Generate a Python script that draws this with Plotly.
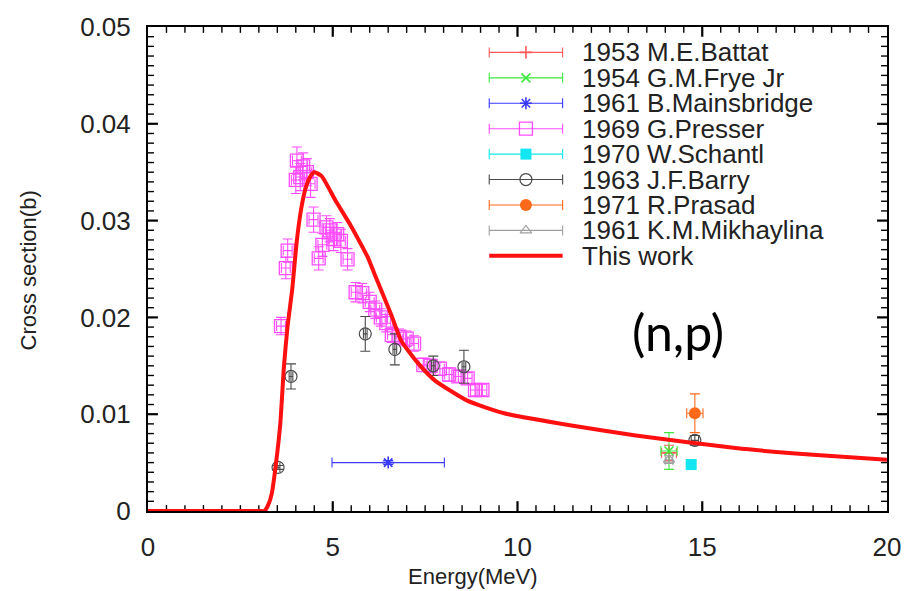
import plotly.graph_objects as go

# ---- Evaluated curve ("This work") ----
fit_e = [0.0, 1.0, 2.0, 3.0, 3.15, 3.25, 3.35, 3.46, 3.58, 3.68, 3.78, 3.90, 4.03, 4.15,
         4.27, 4.40, 4.50, 4.70, 5.07, 5.50, 5.80, 5.95, 6.15, 6.58, 6.85, 7.30, 7.76,
         8.64, 9.64, 11.5, 13.2, 15.9, 18.0, 20.0]
fit_xs = [0, 0, 0, 0, 0, 0.0006, 0.0018, 0.0048, 0.0090, 0.0150, 0.0192, 0.0228, 0.0280,
          0.0313, 0.0334, 0.0346, 0.0350, 0.0346, 0.0321, 0.0294, 0.0273, 0.0262, 0.0243,
          0.0203, 0.0176, 0.0153, 0.0135, 0.0114, 0.0101, 0.0088, 0.0078, 0.0065, 0.0058,
          0.0053]

# ---- Measurements ----
battat_e, battat_xs, battat_dx, battat_dy = [14.1], [0.0060], [0.2], [0.0008]
frye_e, frye_xs, frye_dx, frye_dy = [14.1], [0.0062], [0.22], [0.0019]
mains_e, mains_xs, mains_dx, mains_dy = [6.5], [0.0050], [1.52], [0.0002]
presser_e = [3.60, 3.73, 3.78, 4.00, 4.03, 4.12, 4.20, 4.30, 4.40, 4.48, 4.62, 4.72, 4.83,
             4.92, 5.02, 5.12, 5.22, 5.40, 5.62, 5.80, 6.00, 6.15, 6.30, 6.45, 6.60, 6.80,
             7.00, 7.20, 7.45, 7.65, 7.90, 8.15, 8.40, 8.65, 8.85, 9.05]
presser_xs = [0.0191, 0.0251, 0.0269, 0.0342, 0.0362, 0.0345, 0.0356, 0.0350, 0.0338,
              0.0301, 0.0261, 0.0275, 0.0293, 0.0290, 0.0281, 0.0286, 0.0279, 0.0260,
              0.0226, 0.0225, 0.0216, 0.0208, 0.0200, 0.0194, 0.0182, 0.0180, 0.0178,
              0.0173, 0.0151, 0.0150, 0.0147, 0.0141, 0.0139, 0.0137, 0.0125, 0.0125]
presser_dx = [0.12] * len(presser_e)
presser_dy = [0.0009, 0.0011, 0.0012, 0.0014, 0.0014, 0.0014, 0.0014, 0.0014, 0.0014,
              0.0013, 0.0012, 0.0012, 0.0012, 0.0012, 0.0012, 0.0012, 0.0012, 0.0011,
              0.0010, 0.0010, 0.0010, 0.0009, 0.0009, 0.0009, 0.0008, 0.0008, 0.0008,
              0.0008, 0.0007, 0.0007, 0.0007, 0.0007, 0.0006, 0.0006, 0.0006, 0.0006]
schantl_e, schantl_xs, schantl_dx, schantl_dy = [14.7], [0.0048], [0.1], [0.0003]
barry_e = [3.52, 3.87, 5.88, 6.68, 7.72, 8.55, 14.8]
barry_xs = [0.0045, 0.0139, 0.0183, 0.0167, 0.0150, 0.0149, 0.0073]
barry_dx = [0.05, 0.05, 0.05, 0.05, 0.05, 0.05, 0.1]
barry_dy = [0.0002, 0.0013, 0.0018, 0.0016, 0.0010, 0.0017, 0.0005]
prasad_e, prasad_xs, prasad_dx, prasad_dy = [14.8], [0.0101], [0.22], [0.0020]
mikh_e, mikh_xs, mikh_dx, mikh_dy = [14.1], [0.0053], [0.1], [0.0004]

# axis tick spacing
x_major, x_minor, x_max = 5.0, 0.5, 20.0
y_major, y_minor, y_max = 0.01, 0.001, 0.05

series = [
    ("1953 M.E.Battat", battat_e, battat_xs, battat_dx, battat_dy, "#ff5a5a", "cross-thin-open", 9, 1.6),
    ("1954 G.M.Frye Jr", frye_e, frye_xs, frye_dx, frye_dy, "#3ee83e", "x-thin-open", 9, 1.6),
    ("1961 B.Mainsbridge", mains_e, mains_xs, mains_dx, mains_dy, "#3a3aff", "asterisk-open", 10, 1.6),
    ("1969 G.Presser", presser_e, presser_xs, presser_dx, presser_dy, "#ff4dff", "square-open", 13, 1.3),
    ("1970 W.Schantl", schantl_e, schantl_xs, schantl_dx, schantl_dy, "#12e6f0", "square", 11, 0),
    ("1963 J.F.Barry", barry_e, barry_xs, barry_dx, barry_dy, "#4a4a4a", "circle-open", 12, 1.2),
    ("1971 R.Prasad", prasad_e, prasad_xs, prasad_dx, prasad_dy, "#ff6a1a", "circle", 12, 0),
    ("1961 K.M.Mikhaylina", mikh_e, mikh_xs, mikh_dx, mikh_dy, "#a0a0a0", "triangle-up-open", 10, 1.2),
]

FONT = "Liberation Sans, Arial, sans-serif"
TEXT = "#222222"
RED = "#ff1010"

# plot area in pixels: x 148..893 (0..20 MeV), y 511..16 (0..0.05 b)
X0, X1, Y0, Y1 = 148, 893, 511, 16
PX_E = x_max / (X1 - X0)        # MeV per pixel
PX_B = y_max / (Y0 - Y1)        # barn per pixel
def key_x(px):
    return (px - X0) * PX_E
def key_y(py):
    return (Y0 - py) * PX_B

fig = go.Figure()

# ---- Inward tick marks on all four edges, drawn as line segments in data units ----
def tick_segments(major_len_px, minor_len_px):
    maj_x, maj_y, min_x, min_y = [], [], [], []
    n = int(round(x_max / x_minor))
    per = int(round(x_major / x_minor))
    for k in range(1, n):
        v = k * x_minor
        L = (major_len_px if k % per == 0 else minor_len_px) * PX_B
        tx, ty = (maj_x, maj_y) if k % per == 0 else (min_x, min_y)
        tx += [v, v, None, v, v, None]
        ty += [0, L, None, y_max, y_max - L, None]
    n = int(round(y_max / y_minor))
    per = int(round(y_major / y_minor))
    for k in range(1, n):
        v = k * y_minor
        L = (major_len_px if k % per == 0 else minor_len_px) * PX_E
        tx, ty = (maj_x, maj_y) if k % per == 0 else (min_x, min_y)
        tx += [0, L, None, x_max, x_max - L, None]
        ty += [v, v, None, v, v, None]
    return maj_x, maj_y, min_x, min_y

maj_x, maj_y, min_x, min_y = tick_segments(10, 6)
fig.add_trace(go.Scatter(x=maj_x, y=maj_y, mode="lines", showlegend=False, hoverinfo="skip",
                         line=dict(color="#000000", width=2.2), cliponaxis=False))
fig.add_trace(go.Scatter(x=min_x, y=min_y, mode="lines", showlegend=False, hoverinfo="skip",
                         line=dict(color="#000000", width=1.4), cliponaxis=False))

for name, e, xs, dx, dy, col, sym, size, lw in series:
    fig.add_trace(go.Scatter(
        x=e, y=xs, mode="markers", name=name, showlegend=False,
        marker=dict(symbol=sym, size=size, color=col, line=dict(color=col, width=lw)),
        error_x=dict(type="data", array=dx, color=col, thickness=1.1, width=5),
        error_y=dict(type="data", array=dy, color=col, thickness=1.1, width=5),
    ))

fig.add_trace(go.Scatter(
    x=fit_e, y=fit_xs, mode="lines", name="This work", showlegend=False,
    line=dict(color=RED, width=4, shape="spline", smoothing=0.5),
))

# ---- Key: sample glyph with error caps, then the label ----
key_names = [s[0] for s in series] + ["This work"]
row0, row_step = 42, 26
half = 37 * PX_E
for i, (name, e, xs, dx, dy, col, sym, size, lw) in enumerate(series):
    yy = key_y(row0 + i * row_step)
    fig.add_trace(go.Scatter(
        x=[key_x(529)], y=[yy], mode="markers", showlegend=False, hoverinfo="skip",
        marker=dict(symbol=sym, size=size, color=col, line=dict(color=col, width=lw)),
        error_x=dict(type="constant", value=half, color=col, thickness=1.1, width=5),
    ))
yy = key_y(row0 + 8 * row_step)
fig.add_trace(go.Scatter(
    x=[key_x(492), key_x(566)], y=[yy, yy], mode="lines", showlegend=False,
    hoverinfo="skip", line=dict(color=RED, width=4),
))

annotations = []
for i, name in enumerate(key_names):
    annotations.append(dict(
        x=key_x(583), y=key_y(row0 + i * row_step), xref="x", yref="y", text=name,
        showarrow=False, xanchor="left", yanchor="middle",
        font=dict(family=FONT, size=26, color=TEXT),
    ))

annotations += [
    dict(text="Energy(MeV)", x=0.4403, y=-0.1354, xref="paper", yref="paper",
         showarrow=False, xanchor="center", yanchor="middle",
         font=dict(family=FONT, size=22, color=TEXT)),
    dict(text="Cross section(b)", x=-0.1624, y=0.497, xref="paper", yref="paper",
         showarrow=False, textangle=-90, xanchor="center", yanchor="middle",
         font=dict(family=FONT, size=22, color=TEXT)),
    dict(text="(n,p)", x=14.35, y=0.0185, xref="x", yref="y", showarrow=False,
         xanchor="center", yanchor="middle",
         font=dict(family="Lato, Open Sans, sans-serif", size=50, color="#000000")),
]

tick_font = dict(family=FONT, size=26, color=TEXT)

fig.update_layout(
    width=913, height=591,
    margin=dict(l=148, r=20, t=16, b=80),
    paper_bgcolor="white", plot_bgcolor="white",
    showlegend=False,
    annotations=annotations,
    xaxis=dict(
        range=[0, x_max], dtick=x_major, tick0=0, mirror=True,
        showgrid=False, zeroline=False, showline=True, linecolor="#000000", linewidth=2,
        ticks="", tickfont=tick_font, ticklabelstandoff=12,
    ),
    yaxis=dict(
        range=[0, y_max], dtick=y_major, tick0=0, mirror=True,
        showgrid=False, zeroline=False, showline=True, linecolor="#000000", linewidth=2,
        ticks="", tickfont=tick_font, ticklabelstandoff=10,
    ),
)

fig.write_html("out.html")
